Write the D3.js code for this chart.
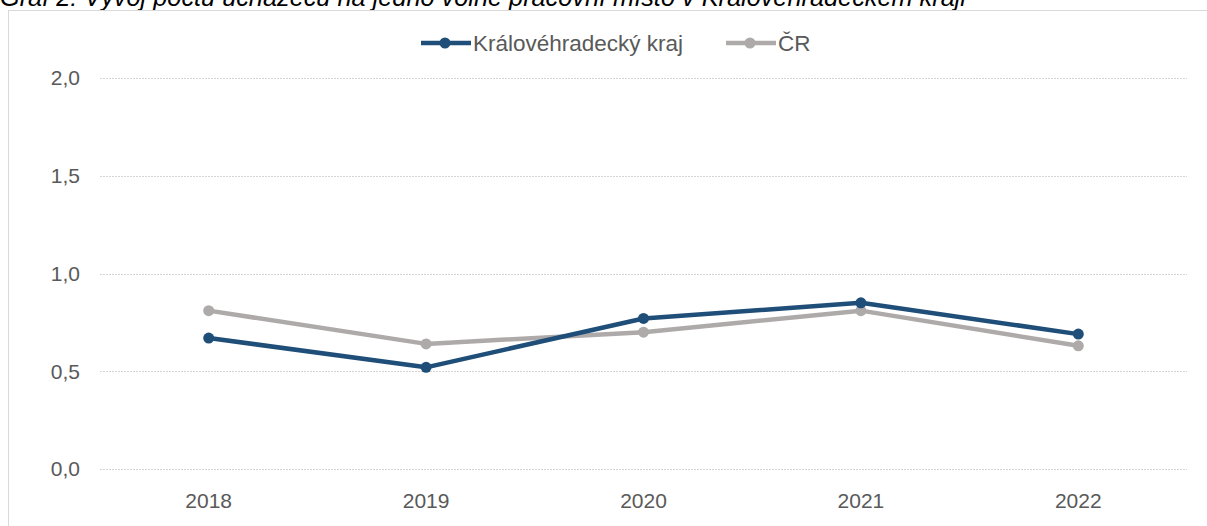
<!DOCTYPE html>
<html>
<head>
<meta charset="utf-8">
<script src="https://cdn.jsdelivr.net/npm/d3@7"></script>
<style>
    body { margin: 0; background: #fff; }
    svg { display: block; font-family: "Liberation Sans", Arial, sans-serif; }
</style>
</head>
<body>
<div id="chart"></div>
<script>
// data
const years = ["2018", "2019", "2020", "2021", "2022"];
const krajValues = [0.67, 0.52, 0.77, 0.85, 0.69];
const crValues = [0.81, 0.64, 0.70, 0.81, 0.63];
const yTicks = [0, 0.5, 1.0, 1.5, 2.0];
const seriesNames = ["Královéhradecký kraj", "ČR"];
const title = "Graf 2: Vývoj počtu uchazečů na jedno volné pracovní místo v Královéhradeckém kraji";

const width = 1207, height = 526;
const margin = {top: 78, right: 20, bottom: 57, left: 100};
const textColor = "#595959";
const fontSize = "21px";

const svg = d3.select("#chart").append("svg")
    .attr("width", width)
    .attr("height", height);

// title, cut at the top like in the source
svg.append("text")
    .attr("x", 0)
    .attr("y", 6)
    .style("font-size", "25.3px")
    .style("font-style", "italic")
    .attr("fill", "#000")
    .text(title);

// chart frame
svg.append("rect")
    .attr("x", 8.5)
    .attr("y", 10.5)
    .attr("width", width + 10)
    .attr("height", height + 10)
    .attr("fill", "#fff")
    .attr("stroke", "#d9d9d9");

const x = d3.scaleBand().domain(years).range([margin.left, width - margin.right]);
const y = d3.scaleLinear().domain([0, 2]).range([469, margin.top]);

// gridlines
svg.append("g")
    .selectAll("line")
    .data(yTicks)
    .join("line")
    .attr("x1", margin.left)
    .attr("x2", width - margin.right)
    .attr("y1", d => Math.round(y(d)) + 0.5)
    .attr("y2", d => Math.round(y(d)) + 0.5)
    .attr("stroke", "#d4d4d4")
    .attr("stroke-dasharray", "2,1");

// y axis labels
const fmt = d => d3.format(".1f")(d).replace(".", ",");
svg.append("g")
    .selectAll("text")
    .data(yTicks)
    .join("text")
    .attr("x", 80)
    .attr("y", d => y(d))
    .attr("dy", "0.35em")
    .attr("text-anchor", "end")
    .style("font-size", fontSize)
    .attr("fill", textColor)
    .text(fmt);

// x axis labels
svg.append("g")
    .selectAll("text")
    .data(years)
    .join("text")
    .attr("x", d => x(d) + x.bandwidth() / 2)
    .attr("y", 508)
    .attr("text-anchor", "middle")
    .style("font-size", fontSize)
    .attr("fill", textColor)
    .text(d => d);

const series = [
    {name: seriesNames[0], values: krajValues, color: "#1f4e79"},
    {name: seriesNames[1], values: crValues, color: "#aeaaaa"}
];

const line = d3.line()
    .x((d, i) => x(years[i]) + x.bandwidth() / 2)
    .y(d => y(d));

// draw ČR first so the regional line sits on top
for (let s of series.slice().reverse()) {
    svg.append("path")
        .datum(s.values)
        .attr("d", line)
        .attr("fill", "none")
        .attr("stroke", s.color)
        .attr("stroke-width", 4.5)
        .attr("stroke-linejoin", "round");

    svg.append("g")
        .selectAll("circle")
        .data(s.values)
        .join("circle")
        .attr("cx", (d, i) => x(years[i]) + x.bandwidth() / 2)
        .attr("cy", d => y(d))
        .attr("r", 5.5)
        .attr("fill", s.color);
}

// legend
const legend = svg.append("g");
const legendItems = [
    {x: 421, s: series[0]},
    {x: 726, s: series[1]}
];
for (let it of legendItems) {
    const g = legend.append("g").attr("transform", "translate(" + it.x + ",43)");
    g.append("line")
        .attr("x1", 0).attr("x2", 50)
        .attr("stroke", it.s.color)
        .attr("stroke-width", 4.5);
    g.append("circle")
        .attr("cx", 24).attr("r", 5.5)
        .attr("fill", it.s.color);
    g.append("text")
        .attr("x", 52)
        .attr("dy", "0.35em")
        .style("font-size", "22.5px")
        .attr("fill", textColor)
        .text(it.s.name);
}
</script>
</body>
</html>
